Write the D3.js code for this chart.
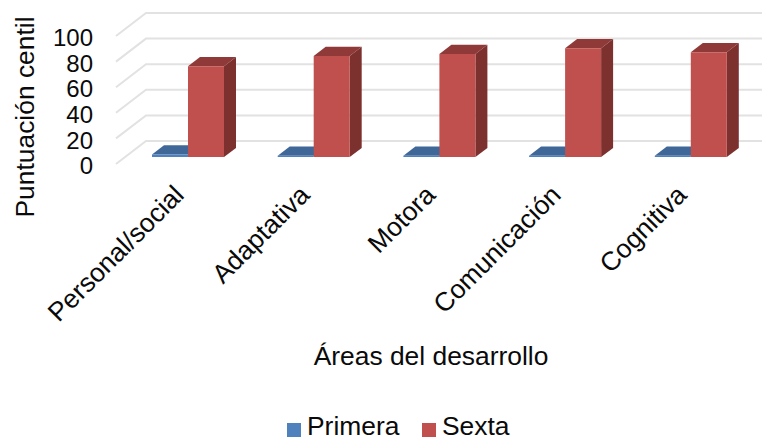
<!DOCTYPE html>
<html>
<head>
<meta charset="utf-8">
<script src="https://cdn.jsdelivr.net/npm/d3@7"></script>
<style>
html,body{margin:0;padding:0;background:#fff}
svg{display:block}
text{font-family:"Liberation Sans",Arial,sans-serif;fill:#0a0a0a}
</style>
</head>
<body>
<svg id="chart" width="762" height="441"></svg>
<script>
const categories = ["Personal/social", "Adaptativa", "Motora", "Comunicación", "Cognitiva"];
const seriesNames = ["Primera", "Sexta"];
const primera = [2, 1, 1, 1, 1];
const sexta = [71, 79, 80.5, 85, 82];
const yTicks = [0, 20, 40, 60, 80, 100];
const seriesColors = {
  Primera: {front: "#4f81bd", top: "#3f6797", side: "#2f4d71"},
  Sexta: {front: "#c0504d", top: "#8f3a38", side: "#7d312f"}
};

const svg = d3.select("#chart");

// Front plane of the oblique box, with the depth vector pushing marks up and right.
const x = d3.scaleBand().domain(categories).range([116, 744.5]);
const y = d3.scaleLinear().domain([0, 100]).range([164, 36]);
const inner = d3.scaleBand().domain(seriesNames).range([27, 99]);
const depthX = 30, depthY = -23;
const barNear = 0.3, barFar = 0.7;
const px = (vx, d) => vx + depthX * d;
const py = (vy, d) => vy + depthY * d;
const poly = pts => pts.map(p => p.join(",")).join(" ");

// Gridlines run along the left wall and then across the back wall.
const grid = svg.append("g");
yTicks.forEach(t => {
  grid.append("polyline")
    .attr("points", poly([
      [px(x.range()[0], 0), py(y(t), 0)],
      [px(x.range()[0], 1), py(y(t), 1)],
      [px(x.range()[1] + 30, 1), py(y(t), 1)]
    ]))
    .attr("fill", "none")
    .attr("stroke", "#e2e2e2")
    .attr("stroke-width", 2);
});

// Each column is three faces: top, side, front.
function drawBar(g, cat, name, value) {
  const c = seriesColors[name];
  const x0 = x(cat) + inner(name);
  const x1 = x0 + inner.bandwidth();
  const base = y(0), top = y(value);
  g.append("polygon").attr("fill", c.top).attr("points", poly([
    [px(x0, barNear), py(top, barNear)],
    [px(x1, barNear), py(top, barNear)],
    [px(x1, barFar), py(top, barFar)],
    [px(x0, barFar), py(top, barFar)]
  ]));
  g.append("polygon").attr("fill", c.side).attr("points", poly([
    [px(x1, barNear), py(top, barNear)],
    [px(x1, barFar), py(top, barFar)],
    [px(x1, barFar), py(base, barFar)],
    [px(x1, barNear), py(base, barNear)]
  ]));
  g.append("polygon").attr("fill", c.front).attr("points", poly([
    [px(x0, barNear), py(top, barNear)],
    [px(x1, barNear), py(top, barNear)],
    [px(x1, barNear), py(base, barNear)],
    [px(x0, barNear), py(base, barNear)]
  ]));
}
const bars = svg.append("g");
categories.forEach((cat, i) => {
  const g = bars.append("g");
  drawBar(g, cat, "Primera", primera[i]);
  drawBar(g, cat, "Sexta", sexta[i]);
});

// Value axis
const yAxis = svg.append("g")
  .attr("transform", "translate(93,2)")
  .call(d3.axisLeft(y).tickValues(yTicks).tickSize(0).tickPadding(0));
yAxis.select(".domain").remove();
yAxis.selectAll("text").style("font-size", "24px").attr("fill", "#0a0a0a");

// Category axis with labels slanted up to the right
const xAxis = svg.append("g")
  .attr("transform", "translate(0,190)")
  .call(d3.axisBottom(x).tickSize(0).tickPadding(0));
xAxis.select(".domain").remove();
xAxis.selectAll("text")
  .style("font-size", "26.4px")
  .attr("fill", "#0a0a0a")
  .attr("text-anchor", "end")
  .attr("dy", "0.35em")
  .attr("x", 0).attr("y", 0)
  .attr("transform", "translate(0,0) rotate(-45)");

// Axis titles
svg.append("text")
  .attr("transform", "translate(34,117) rotate(-90)")
  .attr("text-anchor", "middle")
  .style("font-size", "26.4px")
  .text("Puntuación centil");
svg.append("text")
  .attr("x", 431).attr("y", 365)
  .attr("text-anchor", "middle")
  .style("font-size", "26.4px")
  .text("Áreas del desarrollo");

// Legend
const legendX = [287, 422];
seriesNames.forEach((name, i) => {
  svg.append("rect")
    .attr("x", legendX[i]).attr("y", 423)
    .attr("width", 14).attr("height", 14)
    .attr("fill", seriesColors[name].front);
  svg.append("text")
    .attr("x", legendX[i] + 20).attr("y", 435)
    .style("font-size", "26.4px")
    .text(name);
});
</script>
</body>
</html>
